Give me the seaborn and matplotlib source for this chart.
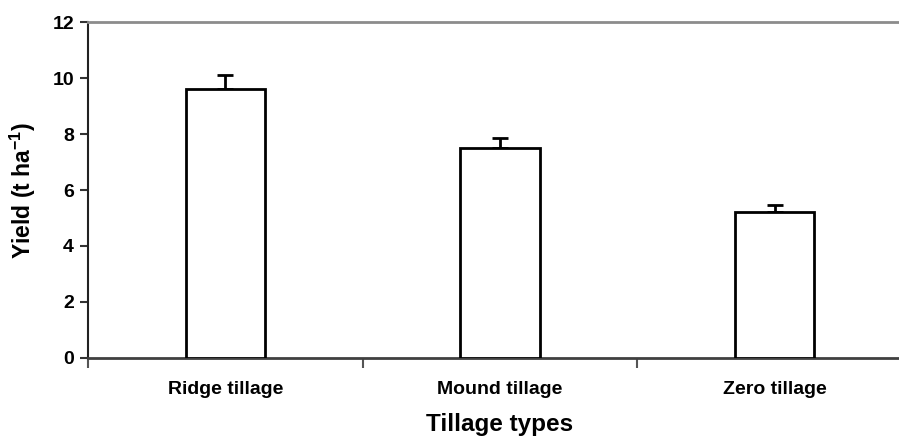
import matplotlib
matplotlib.use("Agg")
import matplotlib.pyplot as plt
import seaborn as sns
import numpy as np

categories = ["Ridge tillage", "Mound tillage", "Zero tillage"]
yields = [9.6, 7.5, 5.2]
errors = [0.5, 0.38, 0.25]
y_ticks = [0, 2, 4, 6, 8, 10, 12]

sns.set_style("white")
plt.rcParams['font.family'] = ['Liberation Sans', 'DejaVu Sans']
plt.rcParams['font.weight'] = 'bold'
plt.rcParams['text.color'] = 'black'
plt.rcParams['axes.labelcolor'] = 'black'
plt.rcParams['xtick.color'] = 'black'
plt.rcParams['ytick.color'] = 'black'
plt.rcParams['mathtext.fontset'] = 'custom'
plt.rcParams['mathtext.rm'] = 'Liberation Sans:bold'
plt.rcParams['mathtext.bf'] = 'Liberation Sans:bold'
plt.rcParams['mathtext.default'] = 'bf'

fig = plt.figure(figsize=(8.99, 4.38), dpi=100)
ax = fig.add_axes([88/899, 80.3/438, 824/899, 335.3/438])

sns.barplot(x=categories, y=yields, color="white", edgecolor="black",
            linewidth=2, width=0.288, errorbar=None, ax=ax, zorder=3)
ax.errorbar(np.arange(len(categories)), yields,
            yerr=[np.zeros(len(errors)), errors], fmt="none",
            ecolor="black", elinewidth=2, capsize=6, capthick=2, zorder=2)

ax.set_ylim(0, 12)
ax.set_xlim(-0.5, 2.5)
ax.set_yticks(y_ticks)
ax.set_yticklabels([str(t) for t in y_ticks], fontsize=14, fontweight='bold',
                   color='black')
ax.set_xticks([-0.5, 0.5, 1.5, 2.5], minor=False)
ax.set_xticklabels([])
ax.set_xticks([0, 1, 2], minor=True)
ax.set_xticklabels(categories, minor=True, fontsize=14, fontweight='bold',
                   color='black')
ax.tick_params(axis='x', which='major', direction='out', length=7, width=1.5,
               color='#555555', bottom=True)
ax.tick_params(axis='x', which='minor', length=0, pad=17)
ax.tick_params(axis='y', direction='out', length=6, width=1.5, color='#333333',
               left=True, pad=4)

ax.spines["left"].set_color("#222222")
ax.spines["left"].set_linewidth(1.5)
ax.spines["bottom"].set_color("#404040")
ax.spines["bottom"].set_linewidth(2)
ax.spines["top"].set_color("#8c8c8c")
ax.spines["top"].set_linewidth(2)
ax.spines["right"].set_visible(False)

ax.set_ylabel("Yield (t ha$^{-1}$)", fontsize=16.5, fontweight='bold',
              color='black')
ax.yaxis.set_label_coords(-(88 - 38) / 824, 0.5)
ax.set_xlabel("")
fig.text(500/899, 1 - 425/438, "Tillage types", fontsize=17.5, fontweight='bold',
         ha='center', va='center', color='black')

fig.savefig("out.png", dpi=100)
